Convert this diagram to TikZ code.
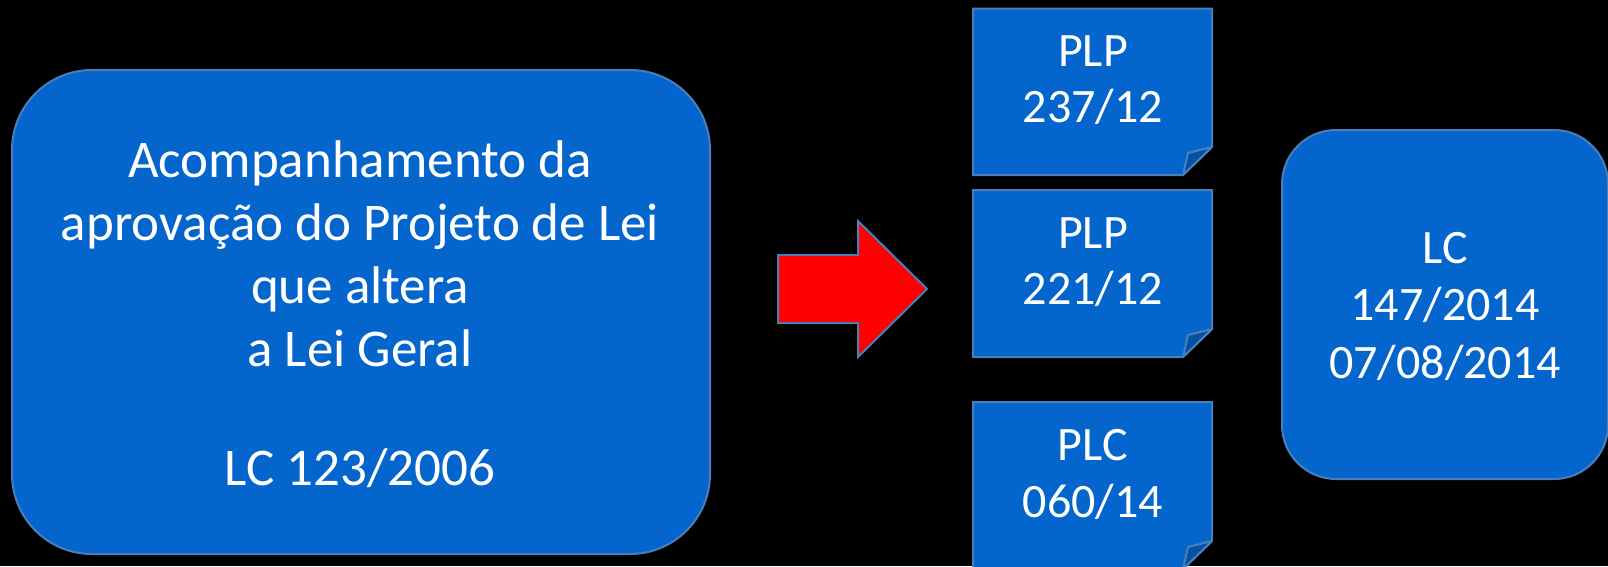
\documentclass[tikz,border=0pt]{standalone}
\usepackage{fontspec}
\setmainfont{Carlito}
\definecolor{boxblue}{RGB}{4,102,204}
\definecolor{edgeblue}{RGB}{74,126,187}
\definecolor{flapblue}{RGB}{2,82,164}
\definecolor{arrowred}{RGB}{255,0,0}
\begin{document}
\begin{tikzpicture}[x=1pt,y=-1pt,
  blockbox/.style={draw=edgeblue, line width=2pt, fill=boxblue, inner sep=0pt, anchor=north west},
  notebox/.style={draw=edgeblue, line width=2pt, fill=boxblue, line join=miter},
  flapbox/.style={draw=edgeblue, line width=2pt, fill=flapblue, line join=round},
  redarrow/.style={draw=edgeblue, line width=2pt, fill=arrowred, line join=miter},
  bigtext/.style={text=white, align=center, font=\fontsize{53}{63}\selectfont, anchor=base, inner sep=0pt},
  notetext/.style={text=white, align=center, font=\fontsize{48}{56.5}\selectfont, anchor=base, inner sep=0pt},
  lctext/.style={text=white, align=center, font=\fontsize{48}{57.5}\selectfont, anchor=base, inner sep=0pt}]
\fill[black] (0,0) rectangle (1608,566);
\useasboundingbox (0,0) rectangle (1608,566);

% big box
\node[blockbox, rounded corners=80pt, minimum width=698pt, minimum height=484pt] (law) at (11,69) {};
\node[bigtext] (lawtext) at (360,485) {Acompanhamento da\\aprovação do Projeto de Lei\\que altera\\a Lei Geral\\[56pt]LC 123/2006};

% arrow
\draw[redarrow] (778,255) -- (858,255) -- (858,221) -- (927,289) -- (858,357) -- (858,323) -- (778,323) -- cycle;

% notes
\draw[notebox] (973,8.5) -- (1212,8.5) -- (1212,147) -- (1183,175) -- (973,175) -- cycle;
\draw[flapbox] (1183,175) -- (1188,153) -- (1212,147) -- cycle;
\node[notetext] (plpa) at (1093,122.7) {PLP\\237/12};

\draw[notebox] (973,190) -- (1212,190) -- (1212,329) -- (1183,357) -- (973,357) -- cycle;
\draw[flapbox] (1183,357) -- (1188,335) -- (1212,329) -- cycle;
\node[notetext] (plpb) at (1093,304.5) {PLP\\221/12};

\draw[notebox] (973,402) -- (1212,402) -- (1212,541) -- (1183,569) -- (973,569) -- cycle;
\draw[flapbox] (1183,569) -- (1188,547) -- (1212,541) -- cycle;
\node[notetext] (plc) at (1093,517) {PLC\\060/14};

% right box
\node[blockbox, rounded corners=54pt, minimum width=326pt, minimum height=349pt] (lc) at (1281,129) {};
\node[lctext] (lctxt) at (1445,378) {LC\\147/2014\\07/08/2014};
\end{tikzpicture}
\end{document}
